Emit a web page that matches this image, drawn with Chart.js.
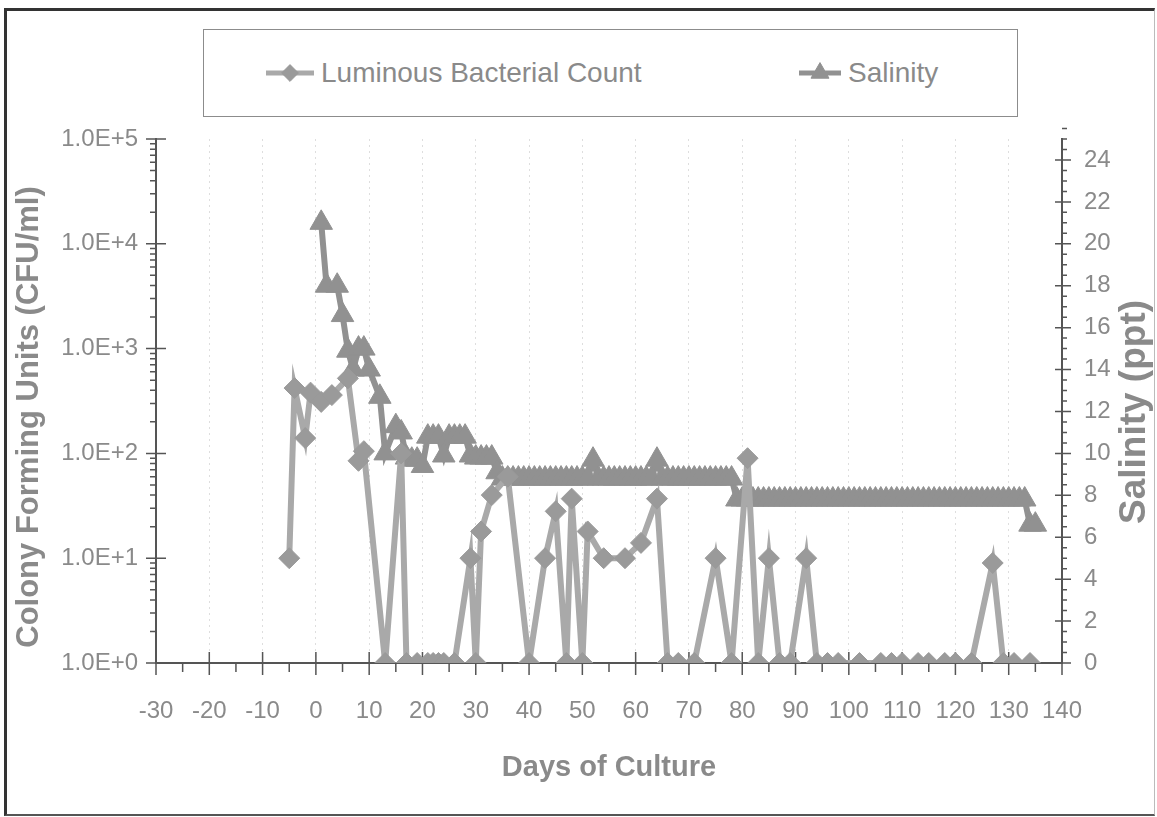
<!DOCTYPE html>
<html>
<head>
<meta charset="utf-8">
<title>Luminous Bacterial Count and Salinity</title>
<script src="https://cdn.jsdelivr.net/npm/chart.js@4.4.1/dist/chart.umd.min.js"></script>
<style>
  html, body { margin: 0; padding: 0; background: #fff; }
  body { width: 1157px; height: 817px; position: relative; overflow: hidden; font-family: "Liberation Sans", Arial, sans-serif; }
  #frame { position: absolute; left: 4px; top: 8px; width: 1151px; height: 808px; box-sizing: border-box;
           border-left: 3px solid #333; border-top: 3px solid #333; border-bottom: 2px solid #555; border-right: 1px solid #bbb; }
  #legend { position: absolute; left: 203px; top: 29px; width: 815px; height: 88px; box-sizing: border-box; border: 1px solid #8c8c8c; }
  .item { position: absolute; top: 0; height: 86px; display: flex; align-items: center; color: #8a8a8a; font-size: 28px; white-space: nowrap; }
  .item canvas { margin-right: 7px; }
  #chart { position: absolute; left: 0; top: 0; }
</style>
</head>
<body>
<div id="frame"></div>
<div id="legend"></div>
<canvas id="chart" width="1157" height="817"></canvas>
<script>
// days of culture / luminous bacterial count (CFU/ml)
const cfuDays = [-5, -4, -2, -1, 1, 3, 6, 8, 9, 13, 16, 17, 19, 21, 22, 23, 24, 26, 29, 30,
  31, 33, 36, 40, 43, 45, 47, 48, 50, 51, 54, 58, 61, 64, 66, 68, 71, 75, 78, 81,
  83, 85, 87, 89, 92, 94, 96, 98, 102, 106, 108, 110, 113, 115, 118, 120, 123, 127, 129, 131, 134];
const cfuValues = [10, 420, 140, 380, 310, 360, 520, 85, 105, 1, 100, 1, 1, 1, 1, 1, 1, 1, 10, 1,
  18, 40, 60, 1, 10, 28, 1, 37, 1, 18, 10, 10, 14, 37, 1, 1, 1, 10, 1, 90,
  1, 10, 1, 1, 10, 1, 1, 1, 1, 1, 1, 1, 1, 1, 1, 1, 1, 9, 1, 1, 1];

// salinity (ppt)
const salDays = [1, 2, 4, 5, 6, 7, 8, 9, 10, 12, 13, 15, 16, 17, 18, 19, 20, 21, 22, 23, 24, 25, 26, 27, 28, 29, 30, 31, 32, 33, 34,
  35, 36, 37, 38, 39, 40, 41, 42, 43, 44, 45, 46, 47, 48, 49, 50, 51, 52, 53, 54, 55, 56,
  57, 58, 59, 60, 61, 62, 63, 64, 65, 66, 67, 68, 69, 70, 71, 72, 73, 74, 75, 76, 77, 78,
  79, 80, 81, 82, 83, 84, 85, 86, 87, 88, 89, 90, 91, 92, 93, 94, 95, 96, 97, 98, 99, 100,
  101, 102, 103, 104, 105, 106, 107, 108, 109, 110, 111, 112, 113, 114, 115, 116, 117, 118, 119, 120,
  121, 122, 123, 124, 125, 126, 127, 128, 129, 130, 131, 132, 133, 134, 135];
const salValues = [21, 18, 18, 16.6, 14.9, 14, 15, 15, 14, 12.7, 10, 11.3, 11, 9.8, 9.7, 9.7, 9.4, 10.8, 10.8, 10.8, 9.9, 10.8, 10.8, 10.8, 10.8, 9.9, 9.8, 9.8, 9.8, 9.8, 9.1,
  8.8, 8.8, 8.8, 8.8, 8.8, 8.8, 8.8, 8.8, 8.8, 8.8, 8.8, 8.8, 8.8, 8.8, 8.8, 8.8, 8.8, 9.7, 8.8, 8.8, 8.8, 8.8,
  8.8, 8.8, 8.8, 8.8, 8.8, 8.8, 8.8, 9.7, 8.8, 8.8, 8.8, 8.8, 8.8, 8.8, 8.8, 8.8, 8.8, 8.8, 8.8, 8.8, 8.8, 8.8,
  7.8, 7.8, 7.8, 7.8, 7.8, 7.8, 7.8, 7.8, 7.8, 7.8, 7.8, 7.8, 7.8, 7.8, 7.8, 7.8, 7.8, 7.8, 7.8, 7.8, 7.8, 7.8,
  7.8, 7.8, 7.8, 7.8, 7.8, 7.8, 7.8, 7.8, 7.8, 7.8, 7.8, 7.8, 7.8, 7.8, 7.8, 7.8, 7.8, 7.8, 7.8, 7.8,
  7.8, 7.8, 7.8, 7.8, 7.8, 7.8, 7.8, 7.8, 7.8, 7.8, 7.8, 7.8, 7.8, 6.6, 6.6];

// axis ticks
const xTicks = [-30, -20, -10, 0, 10, 20, 30, 40, 50, 60, 70, 80, 90, 100, 110, 120, 130, 140];
const cfuTicks = [1, 10, 100, 1000, 10000, 100000];
const cfuTickLabels = ['1.0E+0', '1.0E+1', '1.0E+2', '1.0E+3', '1.0E+4', '1.0E+5'];
const salTicks = [0, 2, 4, 6, 8, 10, 12, 14, 16, 18, 20, 22, 24];

const FONT = '"Liberation Sans", Arial, Helvetica, sans-serif';
const TEXT_GREY = '#8a8a8a';
const AXIS_GREY = '#555';
Chart.defaults.font.family = FONT;

const lumData = cfuDays.map((d, i) => ({ x: d, y: cfuValues[i] }));
const salData = salDays.map((d, i) => ({ x: d, y: salValues[i] }));

// major/minor tick marks crossing the axes, Excel style
const tickMarks = {
  id: 'tickMarks',
  beforeDatasetsDraw(chart) {
    const { ctx, chartArea: a, scales } = chart;
    ctx.save();
    ctx.strokeStyle = AXIS_GREY;
    ctx.lineWidth = 1.5;
    ctx.beginPath();
    xTicks.forEach((v, i) => {
      let px = scales.x.getPixelForValue(v);
      ctx.moveTo(px, a.bottom - 11); ctx.lineTo(px, a.bottom + 12);
      if (i < xTicks.length - 1) {
        px = scales.x.getPixelForValue(v + 5);
        ctx.moveTo(px, a.bottom); ctx.lineTo(px, a.bottom + 9);
      }
    });
    cfuTicks.forEach((v, i) => {
      const py = scales.yCfu.getPixelForValue(v);
      ctx.moveTo(a.left - 10, py); ctx.lineTo(a.left + 10, py);
      if (i < cfuTicks.length - 1) {
        for (let m = 2; m < 10; m++) {
          const my = scales.yCfu.getPixelForValue(v * m);
          ctx.moveTo(a.left - 6, my); ctx.lineTo(a.left, my);
        }
      }
    });
    salTicks.forEach(v => {
      const py = scales.ySal.getPixelForValue(v);
      ctx.moveTo(a.right - 7, py); ctx.lineTo(a.right + 9, py);
      [0.5, 1, 1.5].forEach(f => {
        const my = scales.ySal.getPixelForValue(v + f);
        ctx.moveTo(a.right, my); ctx.lineTo(a.right + 5, my);
      });
    });
    ctx.stroke();
    ctx.restore();
  }
};

// vertical axis titles, both read bottom-to-top
const sideTitles = {
  id: 'sideTitles',
  afterDraw(chart) {
    const { ctx, chartArea: a } = chart;
    const mid = (a.top + a.bottom) / 2;
    ctx.save();
    ctx.fillStyle = TEXT_GREY;
    ctx.textAlign = 'center';
    ctx.textBaseline = 'middle';
    ctx.font = 'bold 31px ' + FONT;
    ctx.translate(29, mid + 16);
    ctx.rotate(-Math.PI / 2);
    ctx.fillText('Colony Forming Units (CFU/ml)', 0, 0);
    ctx.restore();
    ctx.save();
    ctx.fillStyle = TEXT_GREY;
    ctx.textAlign = 'center';
    ctx.textBaseline = 'middle';
    ctx.font = 'bold 37px ' + FONT;
    ctx.translate(a.right + 73, mid + 11);
    ctx.rotate(-Math.PI / 2);
    ctx.fillText('Salinity (ppt)', 0, 0);
    ctx.restore();
  }
};

const chart = new Chart(document.getElementById('chart'), {
  type: 'line',
  data: {
    datasets: [
      {
        label: 'Luminous Bacterial Count',
        data: lumData,
        yAxisID: 'yCfu',
        borderColor: '#a9a9a9',
        borderWidth: 6,
        pointStyle: 'rectRot',
        pointRadius: 10.5,
        pointBackgroundColor: '#9a9a9a',
        pointBorderColor: '#9a9a9a',
        pointBorderWidth: 1
      },
      {
        label: 'Salinity',
        data: salData,
        yAxisID: 'ySal',
        borderColor: '#919191',
        borderWidth: 6,
        pointStyle: 'triangle',
        pointRadius: 13,
        pointBackgroundColor: '#919191',
        pointBorderColor: '#919191',
        pointBorderWidth: 1
      }
    ]
  },
  options: {
    responsive: false,
    animation: false,
    devicePixelRatio: 1,
    layout: { padding: { left: 5, right: 3, top: 139, bottom: 5 } },
    elements: { line: { tension: 0 } },
    plugins: { legend: { display: false }, tooltip: { enabled: false } },
    scales: {
      x: {
        type: 'linear',
        min: -30,
        max: 140,
        afterBuildTicks: s => { s.ticks = xTicks.map(v => ({ value: v })); },
        afterFit: s => { s.height = 149; },
        grid: { color: '#dedede', lineWidth: 1, drawTicks: false },
        border: { display: true, color: AXIS_GREY, width: 2, dash: [2, 4] },
        ticks: { color: TEXT_GREY, font: { size: 24 }, padding: 34, maxRotation: 0, autoSkip: false },
        title: { display: true, text: 'Days of Culture', color: TEXT_GREY, font: { size: 29, weight: 'bold' }, padding: { top: 0, bottom: 27 } }
      },
      yCfu: {
        type: 'logarithmic',
        position: 'left',
        min: 1,
        max: 100000,
        afterBuildTicks: s => { s.ticks = cfuTicks.map(v => ({ value: v })); },
        afterFit: s => { s.width = 151; },
        grid: { display: false, drawTicks: false },
        border: { display: true, color: AXIS_GREY, width: 2 },
        ticks: { color: TEXT_GREY, font: { size: 24 }, padding: 18, callback: (v, i) => cfuTickLabels[i] }
      },
      ySal: {
        type: 'linear',
        position: 'right',
        min: 0,
        max: 25,
        afterBuildTicks: s => { s.ticks = salTicks.map(v => ({ value: v })); },
        afterFit: s => { s.width = 92; },
        grid: { display: false, drawTicks: false },
        border: { display: true, color: AXIS_GREY, width: 2 },
        ticks: { color: TEXT_GREY, font: { size: 24 }, padding: 22 }
      }
    }
  },
  plugins: [tickMarks, sideTitles]
});

// legend box built from the chart's own datasets
const legendBox = document.getElementById('legend');
const legendSlots = [{ left: 62, w: 48 }, { left: 595, w: 42 }];
chart.data.datasets.forEach((ds, i) => {
  const item = document.createElement('div');
  item.className = 'item';
  item.style.left = legendSlots[i].left + 'px';
  const c = document.createElement('canvas');
  c.width = legendSlots[i].w;
  c.height = 30;
  const g = c.getContext('2d');
  g.strokeStyle = ds.borderColor;
  g.lineWidth = 5;
  g.beginPath(); g.moveTo(0, 15); g.lineTo(c.width, 15); g.stroke();
  g.fillStyle = ds.pointBackgroundColor;
  g.strokeStyle = ds.pointBorderColor;
  g.lineWidth = 1;
  Chart.helpers.drawPoint(g, { pointStyle: ds.pointStyle, radius: ds.pointRadius * 0.8, rotation: 0, borderWidth: 1 }, c.width / 2, 15);
  item.appendChild(c);
  const label = document.createElement('span');
  label.textContent = ds.label;
  item.appendChild(label);
  legendBox.appendChild(item);
});
</script>
</body>
</html>
